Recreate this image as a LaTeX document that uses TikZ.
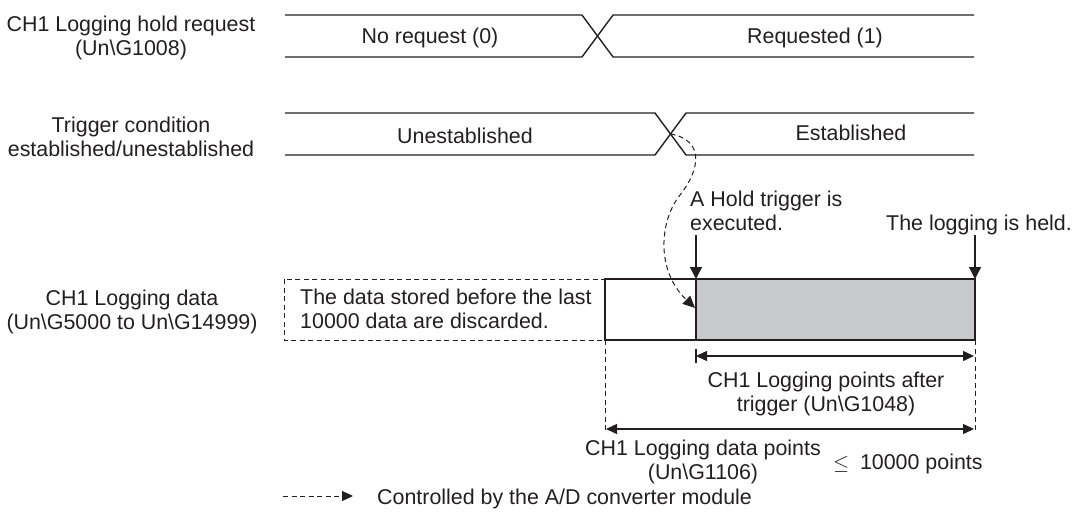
\documentclass[tikz,border=0pt]{standalone}
\usepackage{fontspec}
\setmainfont{Liberation Sans}
\usetikzlibrary{arrows.meta}
\definecolor{ink}{HTML}{231F20}
\definecolor{fillgray}{HTML}{C8C9CB}
\begin{document}
\begin{tikzpicture}[x=1pt,y=-1pt,
  every node/.style={font=\fontsize{21.4}{24.5}\selectfont, text=ink, inner sep=0pt},
  sig/.style={draw=ink, line width=1.4pt, line join=miter},
  lbl/.style={align=center},
  tiparrow/.style={draw=ink, line width=1.4pt, -{Triangle[length=12pt,width=12pt]}},
  dimarrow/.style={draw=ink, line width=1.4pt, {Triangle[length=11pt,width=10pt]}-{Triangle[length=11pt,width=10pt]}},
  dshd/.style={draw=ink, line width=1pt, dash pattern=on 5pt off 3.5pt}
]
\useasboundingbox (0,0) rectangle (1075,514);

% signal rows
\draw[sig] (285,15) -- (582,15) -- (613,57) -- (974,57);
\draw[sig] (285,57) -- (582,57) -- (613,15) -- (974,15);
\draw[sig] (285,113) -- (655,113) -- (686,155) -- (974,155);
\draw[sig] (285,155) -- (655,155) -- (686,113) -- (974,113);
\coordinate (x2) at (670.5,134);

% left labels
\node[lbl] (l1) at (131,38) {CH1 Logging hold request\\(Un\textbackslash G1008)};
\node[lbl] (l2) at (131,137) {Trigger condition\\established/unestablished};
\node[lbl] (l3) at (132,312) {CH1 Logging data\\(Un\textbackslash G5000 to Un\textbackslash G14999)};

% row texts
\node[anchor=base] (t1a) at (430,43) {No request (0)};
\node[anchor=base] (t1b) at (815,43) {Requested (1)};
\node[anchor=base] (t2a) at (465,143) {Unestablished};
\node[anchor=base] (t2b) at (851,140) {Established};

% data boxes
\draw[dshd] (284,279) rectangle (605,340);
\node[anchor=west, align=left] (disc) at (300,309) {The data stored before the last\\10000 data are discarded.};
\draw[draw=ink, line width=1.4pt, fill=white] (605,279) rectangle (696,340);
\filldraw[draw=ink, line width=1.4pt, fill=fillgray] (696,279) rectangle (975,340);
\coordinate (trg) at (696,279);
\coordinate (held) at (975,279);
\coordinate (trgin) at (695,308);

% annotations
\node[anchor=west, align=left] (hold) at (690,211) {A Hold trigger is\\executed.};
\node[anchor=base east] (heldtxt) at (1072,230) {The logging is held.};
\coordinate (trgtop) at (696,235);
\coordinate (heldtop) at (975,235);
\draw[tiparrow] (trgtop) -- (trg);
\draw[tiparrow] (heldtop) -- (held);

% dashed trigger curve
\draw[dshd, -{Triangle[length=12pt,width=11pt]}] (x2) .. controls (705,140) and (700,170) .. (680,195) .. controls (660,220) and (655,270) .. (trgin);

% dimension lines
\coordinate (d1) at (605,340); \coordinate (d1b) at (605,433);
\coordinate (d2) at (975,340); \coordinate (d2b) at (975,433);
\draw[dshd] (d1) -- (d1b);
\draw[dshd] (d2) -- (d2b);
\coordinate (tk1) at (696,349); \coordinate (tk2) at (696,363);
\draw[draw=ink, line width=1.4pt] (tk1) -- (tk2);
\coordinate (a1) at (696,356); \coordinate (a2) at (974,356);
\draw[dimarrow] (a1) -- (a2);
\coordinate (b1) at (606,429); \coordinate (b2) at (974,429);
\draw[dimarrow] (b1) -- (b2);

\node[lbl] (after) at (826,394) {CH1 Logging points after\\trigger (Un\textbackslash G1048)};
\node[lbl] (pts) at (703,462) {CH1 Logging data points\\(Un\textbackslash G1106)};
\node[anchor=west] (le) at (833,464) {$\leq$\hspace{0.5em}10000 points};

% legend
\coordinate (lg1) at (283,496); \coordinate (lg2) at (353,496);
\draw[dshd, -{Triangle[length=11pt,width=10pt]}] (lg1) -- (lg2);
\node[anchor=west] (legtxt) at (377,499) {Controlled by the A/D converter module};
\end{tikzpicture}
\end{document}
